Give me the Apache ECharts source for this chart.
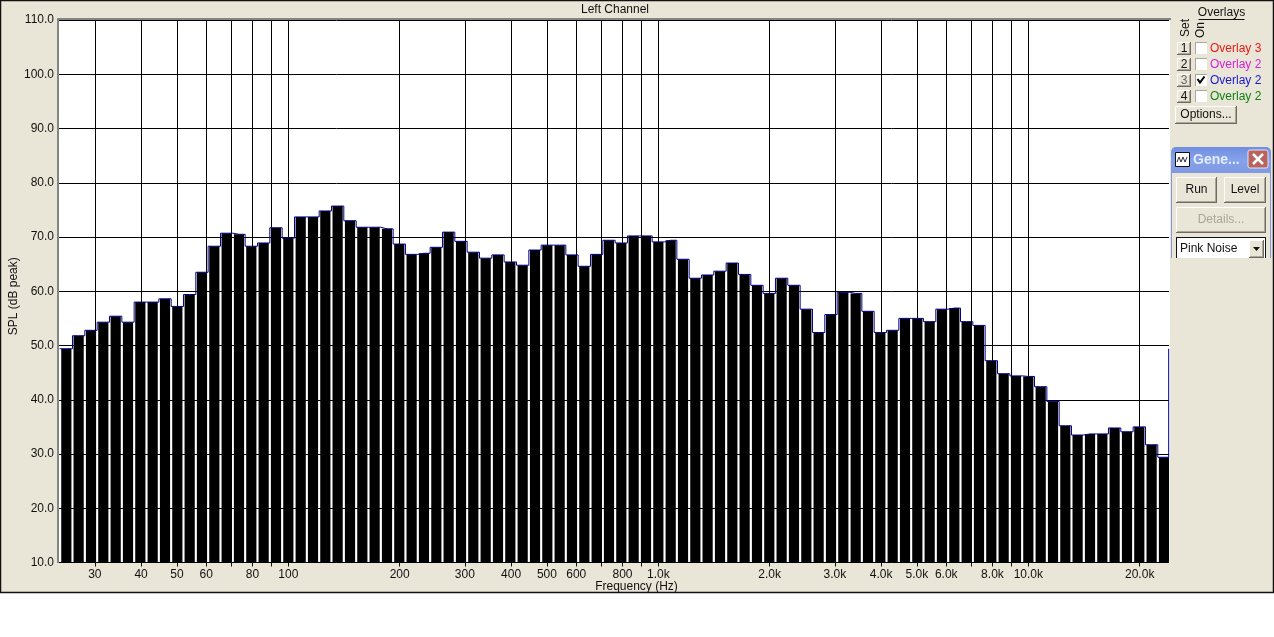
<!DOCTYPE html>
<html><head><meta charset="utf-8">
<style>html,body{margin:0;padding:0;background:#fff}#c{width:1274px;height:637px}</style>
<script src="https://cdn.jsdelivr.net/npm/echarts@6/dist/echarts.min.js"></script>
</head><body><div id="c"></div>
<script>
const bandFrequencies = [25.12,27.12,29.29,31.62,34.15,36.87,39.81,42.99,46.42,50.12,54.12,58.43,63.10,68.13,73.56,79.43,85.77,92.61,
100.0,108.0,116.6,125.9,135.9,146.8,158.5,171.1,184.8,199.5,215.4,232.6,251.2,271.2,292.9,316.2,341.5,368.7,398.1,429.9,464.2,501.2,541.2,584.3,631.0,681.3,735.6,794.3,857.7,926.1,
1000,1080,1166,1259,1359,1468,1585,1711,1848,1995,2154,2326,2512,2712,2929,3162,3415,3687,3981,4299,4642,5012,5412,5843,6310,6813,7356,7943,8577,9261,
10000,10800,11660,12590,13590,14680,15850,17110,18480,19950,21540,23260];
const splValues = [49.4,51.8,52.8,54.3,55.4,54.3,58.0,58.0,58.6,57.2,59.4,63.5,68.3,70.7,70.5,68.3,68.9,71.7,69.8,73.7,73.7,74.8,75.7,73.0,
71.8,71.8,71.5,68.7,66.8,67.0,68.1,70.9,69.2,67.2,66.1,66.7,65.4,64.8,67.6,68.5,68.5,66.7,64.6,66.8,69.4,68.9,70.2,70.2,69.1,69.4,65.9,62.4,
63.0,63.7,65.2,63.1,61.1,59.6,62.4,61.1,56.7,52.4,55.7,59.8,59.6,56.3,52.4,52.8,55.0,55.0,54.4,56.7,56.9,54.4,53.7,47.2,44.8,44.4,44.3,42.4,
39.7,35.2,33.5,33.7,33.7,34.8,34.1,35.0,31.7,29.4];
const tickFrequencies = [30,40,50,60,70,80,90,100,200,300,400,500,600,700,800,900,1000,2000,3000,4000,5000,6000,7000,8000,9000,10000,20000];
const labelFrequencies = [30,40,50,60,80,100,200,300,400,500,600,800,1000,2000,3000,4000,5000,6000,8000,10000,20000];
const overlayNames = ['Overlay 3','Overlay 2','Overlay 2','Overlay 2'];
const overlayColors = ['#e81818','#d820d8','#1818d0','#108010'];
const setLabels = ['1','2','3','4'];
const traceLeadIn = [[24.1,49.4]];
const traceTail = [[23950,29.4],[23950,49.4]];

const FONT = '"Liberation Sans", Arial, sans-serif';
const BG = '#e9e6d7';
const chart = echarts.init(document.getElementById('c'), null, {renderer:'canvas'});

function rect(x,y,w,h,fill,extra){return Object.assign({type:'rect',shape:{x,y,width:w,height:h},style:{fill}},extra||{});}
function line(x1,y1,x2,y2,stroke,lw){return {type:'line',shape:{x1,y1,x2,y2},style:{stroke,lineWidth:lw||1}};}
function label(x,y,text,fill,size,align,extra){
  return Object.assign({type:'text',x,y,style:{text,fill,font:(size||12)+'px '+FONT,textAlign:align||'center',textVerticalAlign:'middle'}},extra||{});
}
function button(x,y,w,h,text,color){
  const out=[rect(x,y,w,h,BG),
    line(x+.5,y+.5,x+w-.5,y+.5,'#ffffff'),line(x+.5,y+.5,x+.5,y+h-.5,'#ffffff'),
    line(x,y+h-.5,x+w,y+h-.5,'#6e6c62',1),line(x+w-.5,y,x+w-.5,y+h,'#6e6c62',1),
    line(x+1,y+h-1.5,x+w-1,y+h-1.5,'#aca899'),line(x+w-1.5,y+1,x+w-1.5,y+h-1,'#aca899')];
  if(text) out.push(label(x+w/2,y+h/2,text,color||'#111',12));
  return out;
}
let chrome=[];
chrome.push(label(1221.5,13,'Overlays','#111',12));
chrome.push(line(1198.5,19.5,1244.5,19.5,'#111'));
chrome.push(label(1186,28,'Set','#111',12,'center',{rotation:Math.PI/2}));
chrome.push(label(1201,30,'On','#111',12,'center',{rotation:Math.PI/2}));
overlayNames.forEach((name,i)=>{
  const cy=48+16*i;
  chrome=chrome.concat(button(1177,cy-6,14,13,setLabels[i],i===2?'#666':'#111'));
  chrome.push(rect(1195,cy-6,12,12,'#ffffff'));
  chrome.push(line(1195.5,cy-6,1195.5,cy+6,'#aca899'));
  chrome.push(line(1195,cy-5.5,1207,cy-5.5,'#aca899'));
  if(i===2) chrome.push({type:'polyline',shape:{points:[[1197.5,cy-1],[1200,cy+2.5],[1204.5,cy-3.5]]},style:{stroke:'#000',lineWidth:2,fill:'none'}});
  chrome.push(label(1210,cy+.5,name,overlayColors[i],12,'left'));
});
chrome=chrome.concat(button(1175,106,62,18,'Options...'));
chrome.push(rect(1171,147,100,111,BG));
chrome.push({type:'rect',shape:{x:1171,y:147,width:100,height:26,r:[5,5,0,0]},style:{fill:new echarts.graphic.LinearGradient(0,0,0,1,[{offset:0,color:'#6f8ee0'},{offset:.5,color:'#86a2ea'},{offset:1,color:'#7f99e2'}])}});
chrome.push(line(1171.5,172,1171.5,258,'#7f99e2'));
chrome.push(line(1270.5,172,1270.5,258,'#7f99e2'));
chrome.push({type:'rect',shape:{x:1175.5,y:152.5,width:14,height:14},style:{fill:'#fff',stroke:'#111'}});
chrome.push({type:'polyline',shape:{points:[[1177,162],[1179,157],[1181,162],[1183,157],[1185,162],[1187,157]]},style:{stroke:'#333',lineWidth:1,fill:'none'}});
chrome.push({type:'text',x:1193,y:160,style:{text:'Gene...',fill:'#e4ecff',font:'bold 14px '+FONT,textAlign:'left',textVerticalAlign:'middle'}});
chrome.push({type:'rect',shape:{x:1248,y:150,width:20,height:18,r:2},style:{fill:'#b9635f',stroke:'#dfe4f5'}});
chrome.push(line(1253,154,1263,164,'#ffffff',2.5));
chrome.push(line(1263,154,1253,164,'#ffffff',2.5));
chrome=chrome.concat(button(1176,177,41,26,'Run'));
chrome=chrome.concat(button(1224,177,42,26,'Level'));
chrome=chrome.concat(button(1176,207,90,26,'Details...','#a8a698'));
chrome.push(rect(1176,237,90,21,'#ffffff'));
chrome.push(line(1176,237.5,1266,237.5,'#111'));
chrome.push(line(1176.5,237,1176.5,258,'#111'));
chrome.push(line(1265.5,237,1265.5,258,'#111'));
chrome.push(label(1180,248.5,'Pink Noise','#111',12,'left'));
chrome=chrome.concat(button(1249,240,15,18,''));
chrome.push({type:'polygon',shape:{points:[[1253,247],[1260,247],[1256.5,251]]},style:{fill:'#111'}});

const fmtFreq = v => { const f=Math.round(v); return f>=1000 ? (f/1000).toFixed(1)+'k' : String(f); };

const backdrop=[
  {type:'rect',z:-10,shape:{x:0.5,y:0.5,width:1273,height:592},style:{fill:BG,stroke:'#111',lineWidth:1.5}},
  {type:'rect',z:-9,shape:{x:59,y:20,width:1111,height:543},style:{fill:'#ffffff'}}
];

chart.setOption({
  animation:false,
  backgroundColor:'#ffffff',
  textStyle:{fontFamily:FONT},
  title:{text:'Left Channel',left:610,top:-1,textAlign:'center',textStyle:{fontSize:12,fontWeight:'normal',color:'#111',fontFamily:FONT}},
  grid:{left:59,top:20,width:1110,height:542.5,containLabel:false,outerBoundsMode:'none'},
  xAxis:{type:'log',logBase:10,min:24,max:24000,
    name:'Frequency (Hz)',nameLocation:'middle',nameGap:18,nameMoveOverlap:false,nameTextStyle:{fontSize:12,color:'#111',fontFamily:FONT,padding:[0,0,0,45]},
    axisLine:{show:false},
    axisTick:{show:true,length:4,customValues:tickFrequencies,lineStyle:{color:'#111'}},
    minorTick:{show:false},minorSplitLine:{show:false},
    axisLabel:{customValues:labelFrequencies,formatter:fmtFreq,fontSize:12,color:'#111',margin:6,fontFamily:FONT,hideOverlap:false},
    splitLine:{show:true,lineStyle:{color:'#000',width:1}}},
  yAxis:{type:'value',min:10,max:110,interval:10,
    name:'SPL (dB peak)',nameLocation:'middle',nameGap:39,nameMoveOverlap:false,nameTextStyle:{fontSize:12,color:'#111',fontFamily:FONT,padding:[0,0,0,-10]},
    axisLine:{show:false},
    axisTick:{show:true,length:2,lineStyle:{color:'#666'}},
    axisLabel:{formatter:v=>v.toFixed(1),fontSize:12,color:'#111',margin:5,fontFamily:FONT},
    splitLine:{show:true,lineStyle:{color:'#000',width:1}}},
  series:[
    {type:'bar',name:'Left Channel',data:bandFrequencies.map((f,i)=>[f,splValues[i]]),barWidth:10.2,
      itemStyle:{color:'#000'},z:3,clip:true},
    {type:'line',name:'Overlay 2',step:'middle',symbol:'none',silent:true,z:4,clip:true,
      data:traceLeadIn.concat(bandFrequencies.map((f,i)=>[f,splValues[i]]),traceTail),
      lineStyle:{color:'#00008b',width:1}}
  ],
  graphic:{elements:backdrop.concat([
    {type:'rect',z:50,shape:{x:57,y:18,width:2,height:545},style:{fill:'#858585'}},
    {type:'rect',z:50,shape:{x:57,y:18,width:1114,height:2},style:{fill:'#858585'}},
    {type:'group',z:60,children:chrome}
  ])}
});
</script></body></html>
